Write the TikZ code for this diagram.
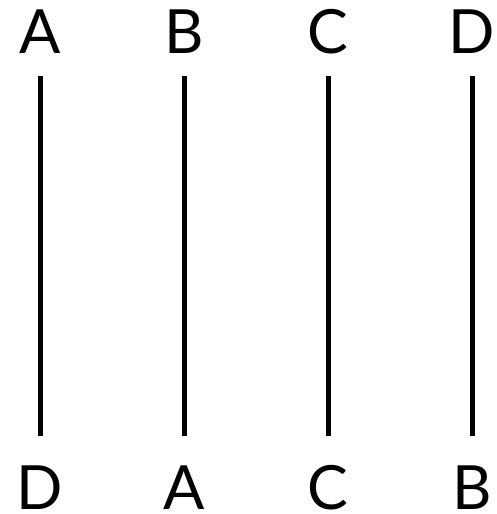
\documentclass[tikz,border=0pt]{standalone}
\usepackage{fontspec}
\setmainfont{Lato}
\begin{document}
\begin{tikzpicture}[x=1pt,y=-1pt,
  lbl/.style={inner sep=0pt,anchor=base,font=\fontsize{61}{61}\selectfont},
  strand/.style={line width=5pt}]
\useasboundingbox (0,0) rectangle (497,514);
\foreach \x/\t/\b [count=\i] in {40/A/D,184/B/A,328/C/C,472/D/B}{
  \node[lbl] (t\i) at (\x,53) {\t};
  \node[lbl] (b\i) at (\x,509) {\b};
  \coordinate (s\i) at (\x,76);
  \coordinate (e\i) at (\x,436);
  \draw[strand] (s\i) -- (e\i);
}
\end{tikzpicture}
\end{document}
